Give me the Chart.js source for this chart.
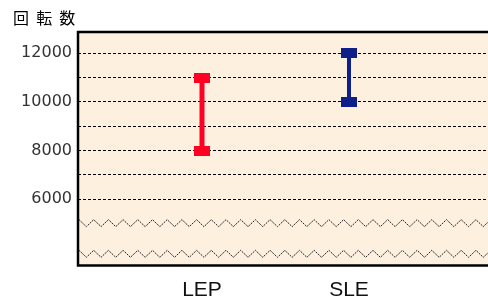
<!DOCTYPE html>
<html>
<head>
<meta charset="utf-8">
<script src="https://cdn.jsdelivr.net/npm/chart.js@4"></script>
<style>
  body { margin: 0; overflow: hidden; background: #fff; }
  #wrap { position: relative; width: 488px; height: 312px; }
</style>
</head>
<body>
<div id="wrap"><canvas id="rangeChart"></canvas></div>
<script>
const categories = ["LEP", "SLE"];
const lowValues = [8000, 10000];
const highValues = [11000, 12000];
const yTickValues = [6000, 7000, 8000, 9000, 10000, 11000, 12000];
const yLabelValues = [6000, 8000, 10000, 12000];
const breakValues = [5020, 3760];
const yAxisTitle = "回  転  数";

const colors = ["#ff0022", "#0f1f8a"];

// small filled rectangle used as the cap at both ends of a range
function makeCap(color) {
  const c = document.createElement("canvas");
  c.width = 16;
  c.height = 10;
  const g = c.getContext("2d");
  g.fillStyle = color;
  g.fillRect(0, 0, 16, 10);
  return c;
}

const datasets = categories.map((name, i) => ({
  label: name,
  data: [
    { x: i + 1, y: lowValues[i] },
    { x: i + 1, y: highValues[i] }
  ],
  showLine: true,
  borderColor: colors[i],
  borderWidth: i === 0 ? 5 : 4,
  pointStyle: makeCap(colors[i]),
  pointRadius: 5
}));

const framePlugin = {
  id: "frame",
  beforeDraw(chart) {
    const { ctx, chartArea: a } = chart;
    ctx.save();
    ctx.fillStyle = "#fdf0df";
    ctx.fillRect(a.left, a.top, a.right - a.left, a.bottom - a.top);
    ctx.restore();
  },
  beforeDatasetsDraw(chart) {
    // zigzag break marks across the lower part of the axis
    const { ctx, chartArea: a, scales } = chart;
    ctx.save();
    ctx.strokeStyle = "#222";
    ctx.lineWidth = 1;
    ctx.setLineDash([2, 1]);
    breakValues.forEach(v => {
      const y = scales.y.getPixelForValue(v);
      ctx.beginPath();
      let up = true;
      let first = true;
      for (let x = a.left + 1; x <= a.right + 8; x += 7.35) {
        const yy = y + (up ? -3.5 : 3.5);
        if (first) { ctx.moveTo(x, yy); first = false; } else ctx.lineTo(x, yy);
        up = !up;
      }
      ctx.stroke();
    });
    ctx.restore();
  },
  afterDraw(chart) {
    const { ctx, chartArea: a } = chart;
    ctx.save();
    ctx.strokeStyle = "#000";
    ctx.lineWidth = 2.5;
    ctx.beginPath();
    ctx.moveTo(a.right + 2, a.top);
    ctx.lineTo(a.left, a.top);
    ctx.lineTo(a.left, a.bottom);
    ctx.lineTo(a.right + 2, a.bottom);
    ctx.stroke();
    ctx.restore();
  }
};

new Chart(document.getElementById("rangeChart"), {
  type: "scatter",
  data: { datasets },
  plugins: [framePlugin],
  options: {
    responsive: true,
    maintainAspectRatio: false,
    animation: false,
    layout: { autoPadding: false, padding: { left: 13, right: 0, top: 0, bottom: 0 } },
    plugins: {
      legend: { display: false },
      tooltip: { enabled: false },
      title: {
        display: true,
        text: yAxisTitle,
        align: "start",
        color: "#000",
        font: { family: "'Noto Sans CJK JP'", size: 16, weight: "normal", lineHeight: 1.125 },
        padding: { top: 9, bottom: 5 }
      }
    },
    scales: {
      x: {
        type: "linear",
        min: 0.1565,
        max: 2.9456,
        grid: { display: false, drawTicks: false },
        border: { display: false },
        afterBuildTicks: s => { s.ticks = categories.map((c, i) => ({ value: i + 1 })); },
        afterFit: s => { s.height = 46.5; s.paddingLeft = 0; s.paddingRight = 0; },
        ticks: {
          padding: 12.5,
          color: "#111",
          font: { family: "'Liberation Sans'", size: 21 },
          callback: v => categories[v - 1] || ""
        }
      },
      y: {
        min: 3280,
        max: 12875,
        grid: { color: "#000", lineWidth: 1, drawTicks: false },
        border: { display: false, dash: [3, 2] },
        afterBuildTicks: s => { s.ticks = yTickValues.map(v => ({ value: v })); },
        afterFit: s => { s.width = 65; s.paddingTop = 0; s.paddingBottom = 0; },
        ticks: {
          padding: 6,
          color: "#333",
          font: { family: "'DejaVu Sans'", size: 16 },
          callback: v => (yLabelValues.includes(v) ? String(v) : "")
        }
      }
    }
  }
});
</script>
</body>
</html>
